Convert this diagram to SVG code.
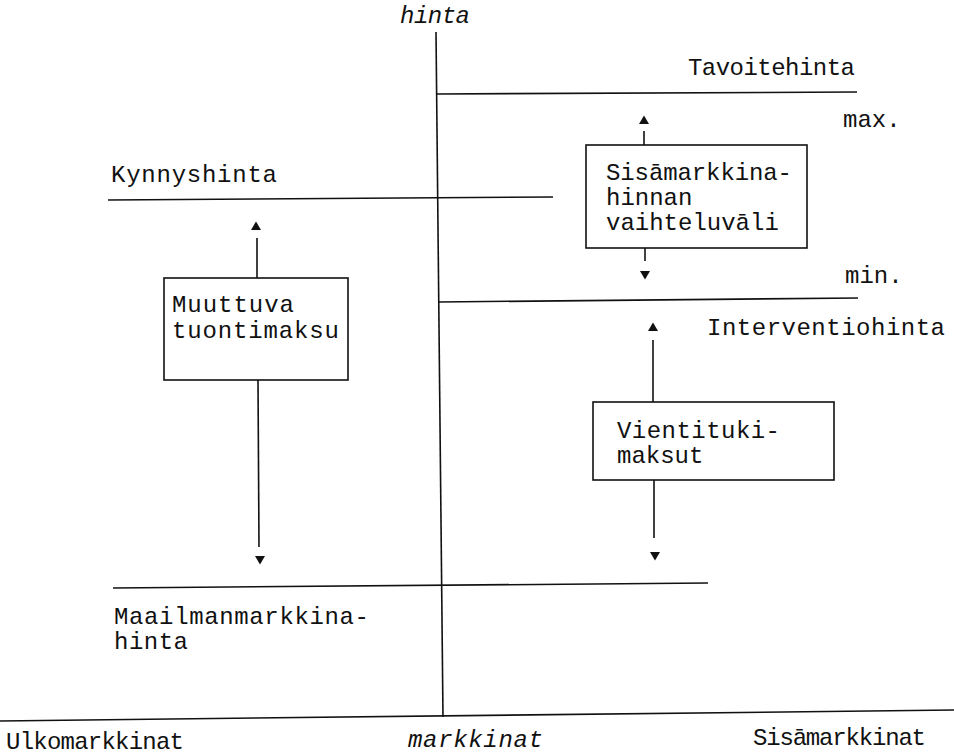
<svg xmlns="http://www.w3.org/2000/svg" xmlns:xlink="http://www.w3.org/1999/xlink" width="954" height="756" viewBox="0 0 954 756">
  <defs>
    <style>
      text { font-family: "Liberation Mono", "DejaVu Sans Mono", monospace; font-size: 24px; fill: #111; }
      .it { font-style: italic; }
      .ln { stroke: #111; stroke-width: 1.6; fill: none; }
      .box { stroke: #111; stroke-width: 1.6; fill: #fff; }
      .tri { fill: #111; }
    </style>
    <polygon id="up" class="tri" points="0,-4.5 -5,4 5,4"/>
    <polygon id="down" class="tri" points="0,4.5 -5,-4 5,-4"/>
  </defs>
  <rect width="954" height="756" fill="#fff"/>

  <g id="axes">
    <line class="ln" x1="436" y1="32" x2="443" y2="717"/>
    <line class="ln" x1="0" y1="721" x2="954" y2="710"/>
    <text class="it" x="400" y="23" textLength="70">hinta</text>
    <text x="6" y="749" textLength="178">Ulkomarkkinat</text>
    <text class="it" x="408" y="747" textLength="135">markkinat</text>
    <text x="753" y="745" textLength="173">Sisāmarkkinat</text>
  </g>

  <g id="tavoitehinta">
    <line class="ln" x1="437" y1="94" x2="857" y2="92"/>
    <text x="688" y="75" textLength="167">Tavoitehinta</text>
    <text x="843" y="127">max.</text>
    <text x="845" y="283">min.</text>
  </g>

  <g id="interventiohinta">
    <line class="ln" x1="438" y1="302" x2="858" y2="298"/>
    <text x="707" y="335" textLength="238">Interventiohinta</text>
  </g>

  <g id="kynnyshinta">
    <line class="ln" x1="108" y1="200" x2="553" y2="197"/>
    <text x="111" y="182" textLength="166">Kynnyshinta</text>
  </g>

  <g id="maailmanmarkkinahinta">
    <line class="ln" x1="113" y1="588" x2="708" y2="583"/>
    <text x="114" y="624" textLength="255">Maailmanmarkkina-</text>
    <text x="114" y="649" textLength="74">hinta</text>
  </g>

  <g id="connectors">
    <line class="ln" x1="644" y1="131" x2="644" y2="145"/>
    <use xlink:href="#up" x="644" y="120"/>
    <line class="ln" x1="645" y1="248" x2="645" y2="261"/>
    <use xlink:href="#down" x="645" y="275"/>

    <line class="ln" x1="257" y1="238" x2="257" y2="278"/>
    <use xlink:href="#up" x="256" y="226"/>
    <line class="ln" x1="258" y1="380" x2="259" y2="547"/>
    <use xlink:href="#down" x="260" y="560"/>

    <line class="ln" x1="653" y1="340" x2="653" y2="402"/>
    <use xlink:href="#up" x="653" y="327"/>
    <line class="ln" x1="654" y1="480" x2="654" y2="538"/>
    <use xlink:href="#down" x="655" y="556"/>
  </g>

  <g id="sisamarkkina">
    <rect class="box" x="586" y="145" width="221" height="103"/>
    <text x="606" y="180" textLength="186">Sisāmarkkina-</text>
    <text x="606" y="205">hinnan</text>
    <text x="606" y="230">vaihteluvāli</text>
  </g>

  <g id="muuttuva">
    <rect class="box" x="164" y="278" width="184" height="102"/>
    <text x="172" y="312" textLength="122">Muuttuva</text>
    <text x="172" y="338" textLength="167">tuontimaksu</text>
  </g>

  <g id="vientituki">
    <rect class="box" x="593" y="402" width="241" height="78"/>
    <text x="617" y="438" textLength="163">Vientituki-</text>
    <text x="617" y="463">maksut</text>
  </g>
</svg>
